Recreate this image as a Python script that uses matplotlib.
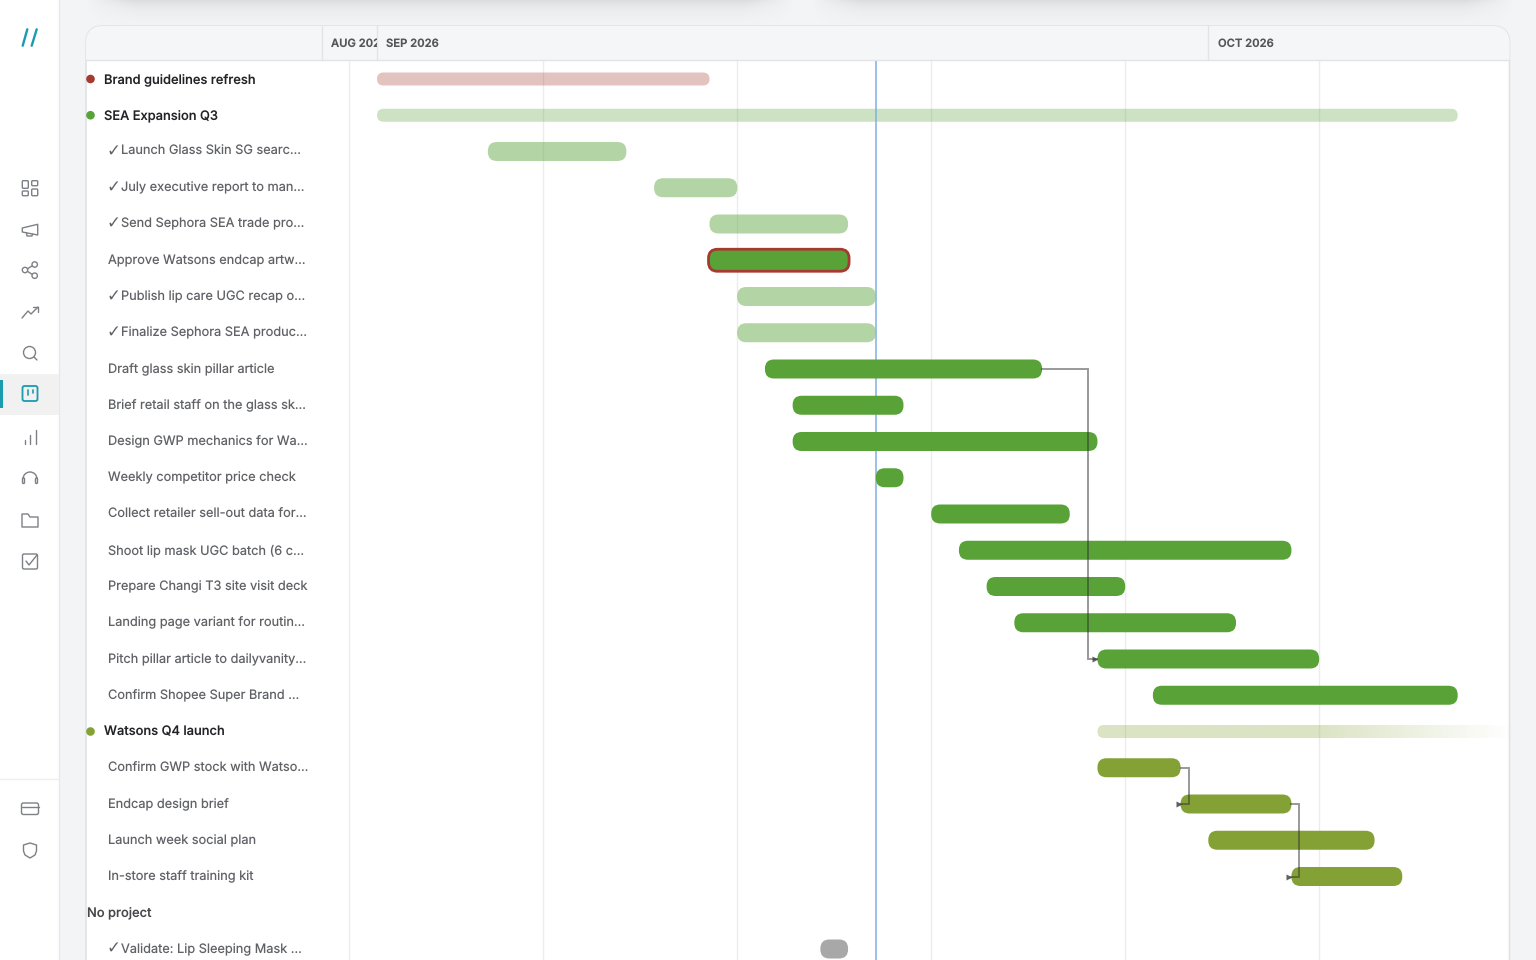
import numpy as np
import matplotlib
matplotlib.use("Agg")
import matplotlib.pyplot as plt
from matplotlib.patches import FancyBboxPatch, Rectangle, Circle, Polygon, Arc

plt.rcParams['font.family'] = ['Inter', 'DejaVu Sans']
plt.rcParams['text.hinting'] = 'no_hinting'

# rows, days counted from 1 Sep 2026
labels = ['Brand guidelines refresh', 'SEA Expansion Q3',
          '✓ Launch Glass Skin SG searc...', '✓ July executive report to man...',
          '✓ Send Sephora SEA trade pro...', 'Approve Watsons endcap artw...',
          '✓ Publish lip care UGC recap o...', '✓ Finalize Sephora SEA produc...',
          'Draft glass skin pillar article', 'Brief retail staff on the glass sk...',
          'Design GWP mechanics for Wa...', 'Weekly competitor price check',
          'Collect retailer sell-out data for...', 'Shoot lip mask UGC batch (6 c...',
          'Prepare Changi T3 site visit deck', 'Landing page variant for routin...',
          'Pitch pillar article to dailyvanity...', 'Confirm Shopee Super Brand ...',
          'Watsons Q4 launch', 'Confirm GWP stock with Watso...',
          'Endcap design brief', 'Launch week social plan',
          'In-store staff training kit', 'No project', '✓ Validate: Lip Sleeping Mask ...']
starts = [0, 0, 4, 10, 12, 12, 13, 13, 14, 15, 15, 18, 20, 21, 22, 23, 26, 28, 26, 26, 29, 30, 33, None, 16]
ends = [12, 39, 9, 13, 17, 17, 18, 18, 24, 19, 26, 19, 25, 33, 27, 31, 34, 39, 41, 29, 33, 36, 37, None, 17]
groups = ['brand', 'sea', 'sea', 'sea', 'sea', 'sea', 'sea', 'sea', 'sea', 'sea', 'sea', 'sea',
          'sea', 'sea', 'sea', 'sea', 'sea', 'sea', 'watsons', 'watsons', 'watsons', 'watsons',
          'watsons', 'none', 'none']
project_rows = [0, 1, 18]
overdue_rows = [5]
depends = [(8, 16), (19, 20), (20, 22)]

months = ['AUG 2026', 'SEP 2026', 'OCT 2026']
month_starts = [-2, 0, 30]
week_days = [6, 13, 20, 27, 34]
today = 18

colors = {'brand': '#a53a30', 'sea': '#58a238', 'watsons': '#84a136', 'none': '#6f6f6f'}
grey = '#7d8086'
teal = '#1b9bb0'

# pixel scale of the timeline
px_day = 27.71
px_row = 36.25
x0 = 377
y0 = 79

fig = plt.figure(figsize=(15.36, 9.6), dpi=100, facecolor='#f3f4f6')

# page chrome, in pixels
bg = fig.add_axes([0, 0, 1, 1])
bg.set_xlim(0, 1536)
bg.set_ylim(960, 0)
bg.axis('off')

# soft shadow at the very top
shade = np.zeros((40, 400, 4))
shade[:, :, :3] = 0.42
fade_y = (0.13 * np.exp(-np.linspace(0, 1, 40) * 4) + 0.05 * (1 - np.linspace(0, 1, 40)))[:, None]
fade_x = np.clip(np.minimum(np.linspace(0, 14, 400), np.linspace(14, 0, 400)), 0, 1)[None, :]
shade[:, :, 3] = fade_y * fade_x
bg.imshow(shade, extent=[85, 795, 26, 0], aspect='auto', zorder=0)
bg.imshow(shade, extent=[810, 1515, 26, 0], aspect='auto', zorder=0)
bg.set_xlim(0, 1536)
bg.set_ylim(960, 0)

bg.add_patch(Rectangle((0, 0), 59, 960, fc='white', ec='none', zorder=1))
bg.plot([59, 59], [0, 960], color='#e7e8ea', lw=1, zorder=1)
bg.plot([0, 59], [779, 779], color='#eeeff1', lw=1, zorder=1)
bg.add_patch(Rectangle((0, 374), 59, 41, fc='#f1f1f2', ec='none', zorder=1))
bg.add_patch(Rectangle((0, 380), 2.5, 28, fc=teal, ec='none', zorder=2))

# card
card = FancyBboxPatch((86, 26), 1423.5, 1000, boxstyle='round,pad=0,rounding_size=17',
                      fc='white', ec='#e0e2e6', lw=1.2, zorder=1)
bg.add_patch(card)
head = Rectangle((86, 26), 1424, 34.5, fc='#f5f6f8', ec='none', zorder=1.1)
bg.add_patch(head)
head.set_clip_path(card)
bg.plot([86, 1509], [60, 60], color='#e2e4e8', lw=1, zorder=1.2)
bg.plot([349, 349], [61, 960], color='#ededef', lw=1, zorder=1.2)


def rbox(x1, y1, x2, y2, r=2, col=grey, lw=1.0, fc='none'):
    bg.add_patch(FancyBboxPatch((x1, y1), x2 - x1, y2 - y1, boxstyle='round,pad=0,rounding_size=%s' % r,
                                fc=fc, ec=col, lw=lw, zorder=3))


def pline(xs, ys, col=grey, lw=1.0):
    bg.plot(xs, ys, color=col, lw=lw, zorder=3, solid_capstyle='round', solid_joinstyle='round')


# logo
pline([22.7, 27.3], [45.7, 29.3], teal, 1.7)
pline([31.7, 36.7], [45.7, 29.3], teal, 1.7)
# dashboard
rbox(22.3, 180.7, 28.3, 188.3, 1)
rbox(22.3, 191, 28.3, 195.7, 1)
rbox(31.7, 180.7, 37.7, 185.7, 1)
rbox(31.7, 189, 37.7, 195.7, 1)
# megaphone
bg.add_patch(Polygon([(22.3, 228), (37.7, 224.3), (37.7, 235), (22.3, 232)], fc='none', ec=grey, lw=1.0, zorder=3, joinstyle='round'))
pline([26.5, 27, 32, 32.5], [233, 236, 236, 234])
# share
for cx, cy in [(34.7, 264.5), (25, 270), (34.7, 275.7)]:
    bg.add_patch(Circle((cx, cy), 2.7, fc='none', ec=grey, lw=1.0, zorder=3))
pline([27.4, 32.3], [268.8, 265.8])
pline([27.4, 32.3], [271.3, 274.4])
# trend
pline([22, 28, 31, 38], [318, 311, 314, 307])
pline([33, 38, 38], [307, 307, 312])
# search
bg.add_patch(Circle((29.5, 352.5), 6, fc='none', ec=grey, lw=1.0, zorder=3))
pline([34, 37], [357, 360])
# board, active
rbox(22.5, 386, 37.5, 401, 2, teal, 1.3)
pline([27.5, 27.5], [390, 395], teal, 1.2)
pline([32.5, 32.5], [390, 393], teal, 1.2)
# bars
pline([24.5, 24.5], [440, 443.5])
pline([30, 30], [435, 443.5])
pline([35.5, 35.5], [429.5, 443.5])
# headset
bg.add_patch(Arc((30, 479), 14, 14, theta1=180, theta2=360, ec=grey, lw=1.0, zorder=3))
rbox(22.5, 478, 24.5, 483.5, 1)
rbox(35.5, 478, 37.5, 483.5, 1)
# folder
bg.add_patch(Polygon([(22, 514), (28, 514), (30, 517), (38, 517), (38, 527), (22, 527)], fc='none', ec=grey, lw=1.0, zorder=3, joinstyle='round'))
# tick box
rbox(22.5, 554, 37.5, 569, 1.5)
pline([26, 29, 37], [561, 565, 555])
# card icon
rbox(21.5, 803, 38.5, 814.5, 2)
pline([21.5, 38.5], [807, 807])
# shield
bg.add_patch(Polygon([(30, 843), (36.5, 845), (36.5, 851), (35, 855), (30, 858), (25, 855), (23.5, 851), (23.5, 845)],
                     fc='none', ec=grey, lw=1.0, zorder=3, joinstyle='round'))

# timeline axes share the pixel grid of the page
left, right, top, bottom = 350, 1510, 61, 960
ax = fig.add_axes([left / 1536, 1 - bottom / 960, (right - left) / 1536, (bottom - top) / 960])
ax.patch.set_alpha(0)
for s in ax.spines.values():
    s.set_visible(False)
ax.set_xticks(week_days)
ax.set_yticks([])
ax.tick_params(length=0, labelbottom=False)
ax.grid(axis='x', color='#ececee', lw=1)
ax.set_axisbelow(True)

aspect = px_day / px_row


def bar(row, d1, d2, h_px, r_px, **kw):
    h = h_px / px_row
    p = FancyBboxPatch((d1, row - h / 2), d2 - d1, h,
                       boxstyle='round,pad=0,rounding_size=%s' % (r_px / px_day),
                       mutation_aspect=aspect, **kw)
    ax.add_patch(p)
    return p


done_rows = [i for i, t in enumerate(labels) if t.startswith('✓')]
for i in range(len(labels)):
    if starts[i] is None:
        continue
    c = colors[groups[i]]
    if i == 18:
        # project running past the right edge fades out
        box = bar(i, starts[i], ends[i], 13, 6.5, fc='none', ec='none', zorder=2)
        ramp = np.zeros((1, 300, 4))
        ramp[:, :, :3] = matplotlib.colors.to_rgb(c)
        ramp[:, :, 3] = np.interp(np.linspace(0, 1, 300), [0, 0.52, 1], [0.3, 0.3, 0.0])
        im = ax.imshow(ramp, extent=[starts[i], ends[i], i + 0.2, i - 0.2], aspect='auto', zorder=2)
        im.set_clip_path(box)
    elif i in project_rows:
        bar(i, starts[i], ends[i], 13, 6.5, fc=c, ec='none', alpha=0.3, zorder=2)
    elif i in overdue_rows:
        bar(i, starts[i] - 1 / px_day, ends[i] + 1 / px_day, 22, 9, fc=c, ec=colors['brand'], lw=2, zorder=3)
    elif i in done_rows:
        bar(i, starts[i], ends[i], 19, 9, fc=c, ec='none', alpha=0.45 if groups[i] != 'none' else 0.6, zorder=2)
    else:
        bar(i, starts[i], ends[i], 19, 9, fc=c, ec='none', zorder=3)

# dependency lines
for a, b in depends:
    if starts[b] > ends[a]:
        mid = starts[b] - 9 / px_day
    else:
        mid = ends[a] + 8 / px_day
    ax.plot([ends[a], mid, mid, starts[b]], [a, a, b, b], color='#333333', lw=1.4, alpha=0.5,
            zorder=4, solid_joinstyle='miter')
    ax.plot([starts[b] - 2 / px_day], [b], marker='>', ms=4.5, color='#444444', alpha=0.85, zorder=4, mec='none')

ax.axvline(today, color='#7fb0e3', lw=1.1, zorder=2.5)
ax.set_xlim((left - x0) / px_day, (right - x0) / px_day)
ax.set_ylim((bottom - y0) / px_row, (top - y0) / px_row)

# month header
head_row = (43.7 - y0) / px_row
for m, d, d2 in zip(months, month_starts, month_starts[1:] + [None]):
    xpx = x0 + d * px_day
    bg.plot([xpx, xpx], [26, 60], color='#e2e4e8', lw=1, zorder=1.3)
    t = ax.text(d + 9.5 / px_day, head_row, m, fontsize=8.1, weight=600, color='#54565a', va='center', ha='left')
    if d2 is not None:
        t.set_clip_path(Rectangle((d, head_row - 0.5), d2 - d, 1, transform=ax.transData))
        t.set_clip_on(True)
    else:
        t.set_clip_on(False)

# row labels
for i, t in enumerate(labels):
    ypx = y0 + i * px_row + 0.3
    if i in project_rows:
        bg.add_patch(Circle((90.5, y0 + i * px_row), 4.3, fc=colors[groups[i]], ec='none', zorder=3))
        bg.text(103.5, ypx, t, fontsize=9.3, weight=500, color='#222326', va='center', ha='left', zorder=3)
    elif starts[i] is None:
        bg.text(87, ypx, t, fontsize=9.3, weight=500, color='#45474b', va='center', ha='left', zorder=3)
    elif t.startswith('✓'):
        bg.text(106.5, ypx, '✓', fontsize=12, family='DejaVu Sans', color='#606266', va='center', ha='left', zorder=3)
        bg.text(121, ypx, t[2:], fontsize=9.2, color='#606266', va='center', ha='left', zorder=3)
    else:
        bg.text(108, ypx, t, fontsize=9.2, color='#606266', va='center', ha='left', zorder=3)

fig.savefig('out.png', dpi=100, facecolor=fig.get_facecolor())
